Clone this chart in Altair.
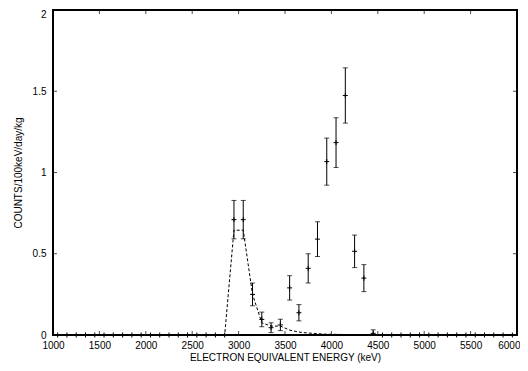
import altair as alt
import pandas as pd

# 100 keV bins (bin centres)
energy_kev = list(range(1050, 6000, 100))
counts = [0, 0, 0, 0, 0, 0, 0, 0, 0, 0, 0, 0, 0, 0, 0, 0, 0, 0, 0,
          0.71, 0.71, 0.25, 0.096, 0.045, 0.062, 0.29, 0.137, 0.41, 0.59,
          1.067, 1.184, 1.474, 0.515, 0.35, 0.01,
          0, 0, 0, 0, 0, 0, 0, 0, 0, 0, 0, 0, 0, 0, 0]
errors = [0, 0, 0, 0, 0, 0, 0, 0, 0, 0, 0, 0, 0, 0, 0, 0, 0, 0, 0,
          0.118, 0.118, 0.07, 0.045, 0.03, 0.035, 0.075, 0.05, 0.09, 0.107,
          0.145, 0.153, 0.17, 0.1, 0.083, 0.022,
          0, 0, 0, 0, 0, 0, 0, 0, 0, 0, 0, 0, 0, 0, 0]
model = [0, 0, 0, 0, 0, 0, 0, 0, 0, 0, 0, 0, 0, 0, 0, 0, 0, 0, 0,
         0.645, 0.645, 0.25, 0.075, 0.055, 0.055, 0.03, 0.018, 0.012, 0.008,
         0.005, 0.004, 0.003, 0.003, 0.002, 0.002,
         0, 0, 0, 0, 0, 0, 0, 0, 0, 0, 0, 0, 0, 0, 0]

x_ticks = [1000, 1500, 2000, 2500, 3000, 3500, 4000, 4500, 5000, 5500, 6000]
y_ticks = [0, 0.5, 1, 1.5, 2]
x_inner = [1500, 2000, 2500, 3000, 3500, 4000, 4500, 5000, 5500]
y_inner = [0.5, 1, 1.5]
x_min, x_max = 1000, 6000
y_min, y_max = 0, 2

W, H = 464, 325
FONT = "Liberation Sans"

df = pd.DataFrame({"E": energy_kev, "C": counts, "err": errors, "M": model})
df["lo"] = (df["C"] - df["err"]).clip(lower=0)
df["hi"] = df["C"] + df["err"]

xscale = alt.Scale(domain=[x_min, x_max], nice=False, zero=False)
yscale = alt.Scale(domain=[y_min, y_max], nice=False, zero=True)
xaxis = alt.Axis(values=x_ticks, format="d", ticks=False, domain=False, grid=False,
                 labelFlush=False, labelOverlap=False, labelPadding=5,
                 labelAlign=alt.condition("datum.value == 6000", alt.value("right"), alt.value("center")),
                 labelOffset=alt.condition("datum.value == 6000", alt.value(3), alt.value(0)),
                 labelFont=FONT, labelFontSize=10, labelColor="black",
                 title="ELECTRON EQUIVALENT ENERGY (keV)", titleFont=FONT,
                 titleFontSize=10, titleFontWeight="normal", titleColor="black",
                 titlePadding=2)
yaxis = alt.Axis(values=y_ticks, format="~g", ticks=False, domain=False, grid=False,
                 labelFlush=False, labelOverlap=False, labelPadding=7,
                 labelOffset=alt.condition("datum.value == 2", alt.value(4), alt.value(0)),
                 labelFont=FONT, labelFontSize=10, labelColor="black",
                 title="COUNTS/100keV/day/kg", titleFont=FONT,
                 titleFontSize=10, titleFontWeight="normal", titleColor="black",
                 titlePadding=9)

def X(field):
    return alt.X(field, scale=xscale, axis=xaxis)
def Y(field):
    return alt.Y(field, scale=yscale, axis=yaxis)

base = alt.Chart(df)

line = base.mark_line(color="black", strokeDash=[3, 2], strokeWidth=1).encode(
    x=X("E:Q"), y=Y("M:Q"))

bars_src = base.transform_filter("datum.err > 0")
bars = bars_src.mark_rule(color="black", strokeWidth=1).encode(
    x=X("E:Q"), y=Y("lo:Q"), y2="hi:Q")
cap_lo = bars_src.mark_tick(orient="horizontal", size=5, thickness=1, color="black").encode(
    x=X("E:Q"), y=Y("lo:Q"))
cap_hi = bars_src.mark_tick(orient="horizontal", size=5, thickness=1, color="black").encode(
    x=X("E:Q"), y=Y("hi:Q"))

pts = base.mark_point(shape="M-1,0H1M0,-1V1", size=25, filled=False,
                      color="black", strokeWidth=1, opacity=1).encode(
    x=X("E:Q"), y=Y("C:Q"))

# inward axis ticks (one row of the main data per tick)
first = base.transform_filter("datum.E == 1050")
tick_layers = []
for v in x_inner:
    t = first.transform_calculate(T=str(v))
    tick_layers.append(t.mark_tick(orient="vertical", size=4, thickness=1, color="black",
                                   yOffset=-2).encode(x=X("T:Q"), y=alt.value(H)))
    tick_layers.append(t.mark_tick(orient="vertical", size=4, thickness=1, color="black",
                                   yOffset=2).encode(x=X("T:Q"), y=alt.value(0)))
for v in y_inner:
    t = first.transform_calculate(T=str(v))
    tick_layers.append(t.mark_tick(orient="horizontal", size=4, thickness=1, color="black",
                                   xOffset=2).encode(y=Y("T:Q"), x=alt.value(0)))
    tick_layers.append(t.mark_tick(orient="horizontal", size=4, thickness=1, color="black",
                                   xOffset=-2).encode(y=Y("T:Q"), x=alt.value(W)))

chart = alt.layer(line, bars, cap_lo, cap_hi, pts, *tick_layers).properties(
    width=W, height=H,
    background="white",
    autosize=alt.AutoSizeParams(type="none"),
    padding={"left": 45, "top": 2, "right": 3, "bottom": 28},
).configure_view(stroke="#000000", strokeWidth=2)

chart.save("out.html", embed_options={"renderer": "svg", "actions": False})
